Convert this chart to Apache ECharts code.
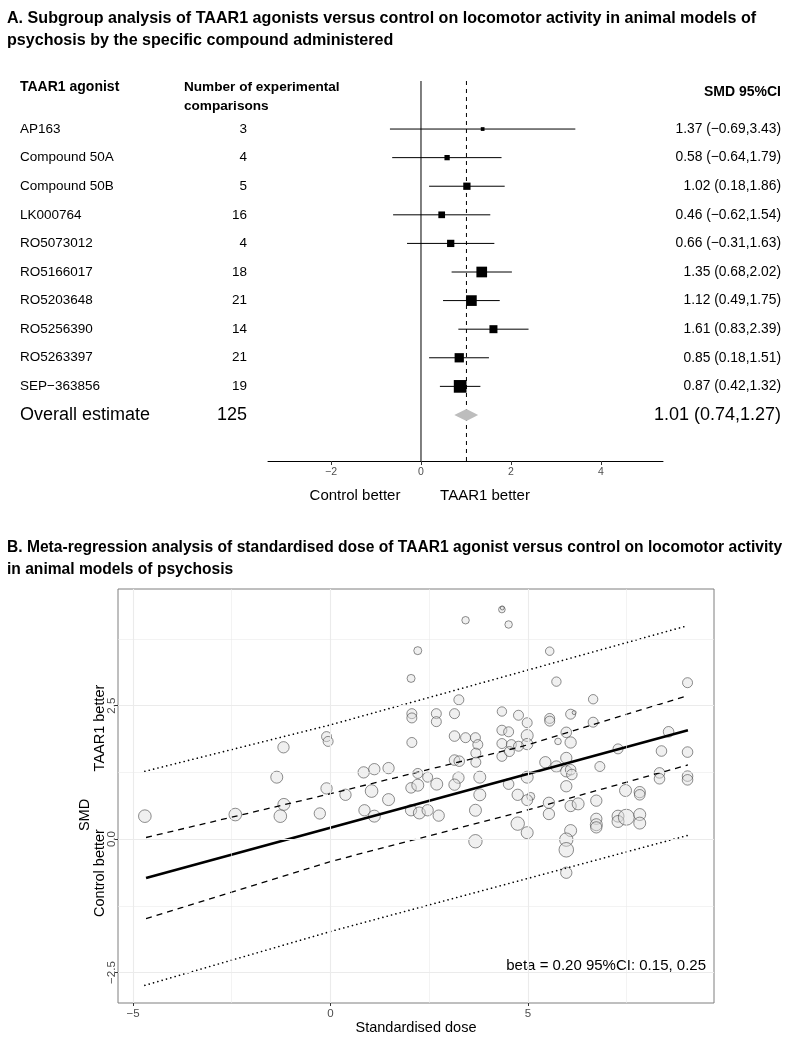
<!DOCTYPE html>
<html><head><meta charset="utf-8">
<script src="https://cdn.jsdelivr.net/npm/echarts@6/dist/echarts.min.js"></script>
<style>html,body{margin:0;padding:0;background:#fff}#c{width:789px;height:1048px}</style>
</head><body><div id="c"></div>
<script>
// ---------- Panel A data ----------
const agonists = ['AP163','Compound 50A','Compound 50B','LK000764','RO5073012','RO5166017','RO5203648','RO5256390','RO5263397','SEP\u2212363856'];
const comparisons = [3,4,5,16,4,18,21,14,21,19];
const smd = [1.37,0.58,1.02,0.46,0.66,1.35,1.12,1.61,0.85,0.87];
const ciLow = [-0.69,-0.64,0.18,-0.62,-0.31,0.68,0.49,0.83,0.18,0.42];
const ciHigh = [3.43,1.79,1.86,1.54,1.63,2.02,1.75,2.39,1.51,1.32];
const studyWeight = [14,28,53,45,53,114,114,64,86,161];
const overallN = 125;
const overallEst = 1.01, overallLow = 0.74, overallHigh = 1.27;
const forestTicks = [-2,0,2,4];

// ---------- Panel B data ----------
const doseX = [-4.70,-2.41,-1.36,-1.19,-1.18,-1.27,-0.27,-0.10,-0.06,-0.10,
0.38,0.84,1.11,1.47,1.04,1.47,0.86,1.11,2.04,2.21,
2.06,2.06,2.06,2.68,2.68,3.14,3.25,3.14,3.42,3.67,
3.73,3.68,3.68,3.14,3.26,2.21,2.46,2.69,2.04,2.21,
2.04,2.25,2.46,2.74,3.24,3.14,3.78,3.78,3.67,3.67,
3.42,4.34,4.35,4.51,4.34,4.34,4.51,4.34,4.58,4.34,
4.53,4.76,4.98,4.98,4.98,4.76,4.51,4.74,5.07,4.98,
4.98,4.74,4.98,5.55,5.72,5.55,5.55,6.08,6.17,5.97,
5.76,6.08,6.65,6.65,5.44,5.72,5.97,5.97,6.08,6.11,
5.97,5.53,5.53,6.08,6.27,6.82,6.73,7.28,6.08,5.97,
5.97,5.97,6.73,6.73,6.73,7.28,7.28,7.49,7.83,7.83,
7.47,7.83,7.83,8.56,8.38,9.04,8.33,8.33,9.04,9.04,
9.04];
const smdY = [0.43,0.46,1.16,1.72,0.65,0.43,0.48,1.92,1.83,0.95,
0.83,1.25,1.31,1.33,0.90,0.74,0.54,0.43,3.01,3.53,
2.35,2.27,1.81,2.35,2.20,2.35,2.61,1.93,1.90,1.90,
1.77,1.61,1.44,1.48,1.46,1.23,1.16,1.03,0.96,1.01,
0.54,0.49,0.54,0.44,1.15,1.02,1.16,0.83,0.54,-0.04,
4.10,4.30,4.33,4.02,2.39,2.04,2.01,1.79,1.77,1.55,
1.64,2.32,2.18,1.94,1.78,1.74,1.03,0.83,0.80,0.73,
1.16,0.29,0.12,3.52,2.95,2.26,2.21,2.34,2.37,2.00,
1.83,1.81,2.62,2.19,1.44,1.36,1.52,1.27,1.30,1.21,
0.99,0.68,0.47,0.62,0.66,1.36,0.72,1.69,0.16,-0.01,
-0.20,-0.63,0.38,0.27,0.22,0.43,0.33,0.41,0.46,0.30,
0.91,0.88,0.83,2.01,1.65,1.63,1.24,1.13,1.18,1.11,
2.93];
const precisionWeight = [40,40,36,32,36,40,32,25,25,32,
32,32,32,32,40,36,32,36,16,16,
25,25,25,25,25,25,25,28,25,25,
25,25,25,28,28,25,25,36,28,36,
32,36,32,32,32,32,36,36,36,45,
14,11,4,14,22,25,25,25,25,25,
25,25,25,36,32,25,28,32,16,30,
36,45,36,18,22,25,25,25,4,28,
11,32,22,25,32,32,32,32,28,28,
32,32,32,32,36,25,32,25,36,45,
53,32,32,36,32,36,36,64,36,36,
36,32,28,28,28,28,28,28,28,28,
25];
const fitX = [-4.67, 9.05];
const fitY = [-0.73, 2.04];
const ciBandX = [-4.67, 0, 4.87, 9.05];
const ciBandUpper = [0.03, 0.85, 1.74, 2.69];
const ciBandLower = [-1.49, -0.42, 0.52, 1.39];
const predX = [-4.70, 0, 9.05];
const predUpper = [1.27, 2.14, 4.00];
const predLower = [-2.74, -1.73, 0.07];
const xTicksB = [-5, 0, 5];
const yTicksB = [-2.5, 0, 2.5];
const gridMajorX = [-5, 0, 5], gridMinorX = [-2.5, 2.5, 7.5];
const gridMajorY = [-2.5, 0, 2.5], gridMinorY = [-1.25, 1.25, 3.75];

// ---------- helpers ----------
const FONT = '"Liberation Sans", Arial, Helvetica, sans-serif';
const neg = s => String(s).replace('-', '\u2212');
const f2 = v => (v < 0 ? '\u2212' : '') + Math.abs(v).toFixed(2);
const ciText = (e, l, h) => `${f2(e)} (${f2(l)},${f2(h)})`;
const A_YMIN = -1.68, A_YMAX = 11.61;

const chart = echarts.init(document.getElementById('c'), null, {renderer: 'canvas'});

const forestData = smd.map((v, i) => [i, v, ciLow[i], ciHigh[i], studyWeight[i]]);
const tableData = agonists.map((n, i) => [0, i]).concat([[0, agonists.length]]);
const scatterData = doseX.map((x, i) => [x, smdY[i], precisionWeight[i]]);

function mkText(x, y, text, size, opts) {
  opts = opts || {};
  return {type: 'text', x: x, y: y, silent: true,
    style: {text: text, font: (opts.bold ? 'bold ' : '') + size + 'px ' + FONT,
      fill: opts.fill || '#000', align: opts.align || 'left', verticalAlign: 'middle'}};
}

const gridLineSeries = (vals, axis, width) => ({
  type: 'line', xAxisIndex: 1, yAxisIndex: 1, data: [], silent: true, z: 1,
  markLine: {silent: true, symbol: 'none', animation: false, label: {show: false},
    lineStyle: {color: '#ebebeb', width: width, type: 'solid'},
    data: vals.map(v => ({[axis]: v}))}
});

const option = {
  animation: false,
  backgroundColor: '#fff',
  grid: [
    {left: 268, top: 81, width: 395, height: 380},
    {left: 118, top: 589, width: 596, height: 414, show: true, borderColor: '#7f7f7f', borderWidth: 1}
  ],
  xAxis: [
    {gridIndex: 0, type: 'value', min: -3.4, max: 5.378,
      axisLine: {show: true, onZero: false, lineStyle: {color: '#000', width: 1}},
      axisTick: {show: true, customValues: forestTicks, length: 4, lineStyle: {color: '#333'}},
      axisLabel: {customValues: forestTicks, formatter: v => neg(v), color: '#4d4d4d', fontSize: 10.5, fontFamily: FONT, margin: 6},
      splitLine: {show: false}},
    {gridIndex: 1, type: 'value', min: -5.38, max: 9.71,
      axisLine: {show: false, onZero: false},
      axisTick: {show: true, customValues: xTicksB, length: 3, lineStyle: {color: '#333'}},
      axisLabel: {customValues: xTicksB, formatter: v => neg(v), color: '#4d4d4d', fontSize: 11.5, fontFamily: FONT, margin: 5},
      splitLine: {show: false}}
  ],
  yAxis: [
    {gridIndex: 0, type: 'value', inverse: true, min: A_YMIN, max: A_YMAX, show: false},
    {gridIndex: 1, type: 'value', min: -3.07, max: 4.685,
      axisLine: {show: false, onZero: false},
      axisTick: {show: true, customValues: yTicksB, length: 3, lineStyle: {color: '#333'}},
      axisLabel: {customValues: yTicksB, rotate: 90, formatter: v => neg(v.toFixed(1)), color: '#4d4d4d', fontSize: 11.5, fontFamily: FONT, margin: 0},
      splitLine: {show: false}}
  ],
  series: [
    {type: 'line', xAxisIndex: 0, yAxisIndex: 0, data: [[0, A_YMIN], [0, A_YMAX]], symbol: 'none', silent: true,
      lineStyle: {color: '#000', width: 1}},
    {type: 'line', xAxisIndex: 0, yAxisIndex: 0, data: [[overallEst, A_YMIN], [overallEst, A_YMAX]], symbol: 'none', silent: true,
      lineStyle: {color: '#000', width: 1, type: [4, 4]}},
    {type: 'custom', xAxisIndex: 0, yAxisIndex: 0, data: forestData, silent: true, z: 5,
      renderItem: function (params, api) {
        const row = api.value(0);
        const pl = api.coord([api.value(2), row]);
        const ph = api.coord([api.value(3), row]);
        const pe = api.coord([api.value(1), row]);
        const s = Math.sqrt(api.value(4));
        return {type: 'group', children: [
          {type: 'line', shape: {x1: pl[0], y1: pl[1], x2: ph[0], y2: ph[1]}, style: {stroke: '#000', lineWidth: 1}},
          {type: 'rect', shape: {x: pe[0] - s / 2, y: pe[1] - s / 2, width: s, height: s}, style: {fill: '#000'}}
        ]};
      }},
    {type: 'custom', xAxisIndex: 0, yAxisIndex: 0, data: [[agonists.length, overallEst, overallLow, overallHigh]], silent: true, z: 5,
      renderItem: function (params, api) {
        const row = api.value(0);
        const pl = api.coord([api.value(2), row]);
        const ph = api.coord([api.value(3), row]);
        const pe = api.coord([api.value(1), row]);
        const h = 6;
        return {type: 'polygon', shape: {points: [[pl[0], pl[1]], [pe[0], pe[1] - h], [ph[0], ph[1]], [pe[0], pe[1] + h]]},
          style: {fill: '#bdbdbd'}};
      }},
    {type: 'custom', xAxisIndex: 0, yAxisIndex: 0, data: tableData, silent: true, z: 6,
      renderItem: function (params, api) {
        const i = params.dataIndex;
        const y = api.coord([0, api.value(1)])[1];
        if (i < agonists.length) {
          return {type: 'group', children: [
            mkText(20, y, agonists[i], 13.5),
            mkText(247, y, String(comparisons[i]), 13.5, {align: 'right'}),
            mkText(781, y, ciText(smd[i], ciLow[i], ciHigh[i]), 13.8, {align: 'right'})
          ]};
        }
        return {type: 'group', children: [
          mkText(20, y, 'Overall estimate', 18),
          mkText(247, y, String(overallN), 18, {align: 'right'}),
          mkText(781, y, ciText(overallEst, overallLow, overallHigh), 18, {align: 'right'})
        ]};
      }},
    gridLineSeries(gridMinorX, 'xAxis', 0.6),
    gridLineSeries(gridMinorY, 'yAxis', 0.6),
    gridLineSeries(gridMajorX, 'xAxis', 1.1),
    gridLineSeries(gridMajorY, 'yAxis', 1.1),
    {type: 'scatter', xAxisIndex: 1, yAxisIndex: 1, data: scatterData, z: 3, silent: true,
      symbolSize: v => 2 * Math.sqrt(v[2]),
      itemStyle: {color: 'rgba(220,220,220,0.55)', borderColor: 'rgba(70,70,70,0.85)', borderWidth: 0.9}},
    {type: 'line', xAxisIndex: 1, yAxisIndex: 1, data: fitX.map((x, i) => [x, fitY[i]]), symbol: 'none', z: 4, silent: true,
      lineStyle: {color: '#000', width: 2.6}},
    {type: 'line', xAxisIndex: 1, yAxisIndex: 1, data: ciBandX.map((x, i) => [x, ciBandUpper[i]]), symbol: 'none', z: 4, silent: true,
      lineStyle: {color: '#000', width: 1.3, type: [6, 5]}},
    {type: 'line', xAxisIndex: 1, yAxisIndex: 1, data: ciBandX.map((x, i) => [x, ciBandLower[i]]), symbol: 'none', z: 4, silent: true,
      lineStyle: {color: '#000', width: 1.3, type: [6, 5]}},
    {type: 'line', xAxisIndex: 1, yAxisIndex: 1, data: predX.map((x, i) => [x, predUpper[i]]), symbol: 'none', z: 4, silent: true,
      lineStyle: {color: '#000', width: 1.6, type: [0.1, 4.4], cap: 'round'}},
    {type: 'line', xAxisIndex: 1, yAxisIndex: 1, data: predX.map((x, i) => [x, predLower[i]]), symbol: 'none', z: 4, silent: true,
      lineStyle: {color: '#000', width: 1.6, type: [0.1, 4.4], cap: 'round'}}
  ],
  graphic: [
    mkText(7, 19, 'A. Subgroup analysis of TAAR1 agonists versus control on locomotor activity in animal models of', 16.1, {bold: true}),
    mkText(7, 41, 'psychosis by the specific compound administered', 16.1, {bold: true}),
    mkText(20, 87, 'TAAR1 agonist', 14, {bold: true}),
    mkText(184, 87, 'Number of experimental', 13.6, {bold: true}),
    mkText(184, 106, 'comparisons', 13.6, {bold: true}),
    mkText(781, 92, 'SMD 95%CI', 14, {bold: true, align: 'right'}),
    mkText(355, 496, 'Control better', 15, {align: 'center'}),
    mkText(485, 496, 'TAAR1 better', 15, {align: 'center'}),
    mkText(7, 548, 'B. Meta-regression analysis of standardised dose of TAAR1 agonist versus control on locomotor activity', 15.6, {bold: true}),
    mkText(7, 570, 'in animal models of psychosis', 15.6, {bold: true}),
    Object.assign(mkText(85, 815, 'SMD', 14.5, {align: 'center'}), {rotation: Math.PI / 2}),
    Object.assign(mkText(100, 728, 'TAAR1 better', 14.5, {align: 'center'}), {rotation: Math.PI / 2}),
    Object.assign(mkText(100, 873, 'Control better', 14.5, {align: 'center'}), {rotation: Math.PI / 2}),
    mkText(416, 1028, 'Standardised dose', 14.5, {align: 'center'}),
    mkText(706, 966, 'beta = 0.20 95%CI: 0.15, 0.25', 15, {align: 'right'})
  ]
};
chart.setOption(option);
</script>
</body></html>
